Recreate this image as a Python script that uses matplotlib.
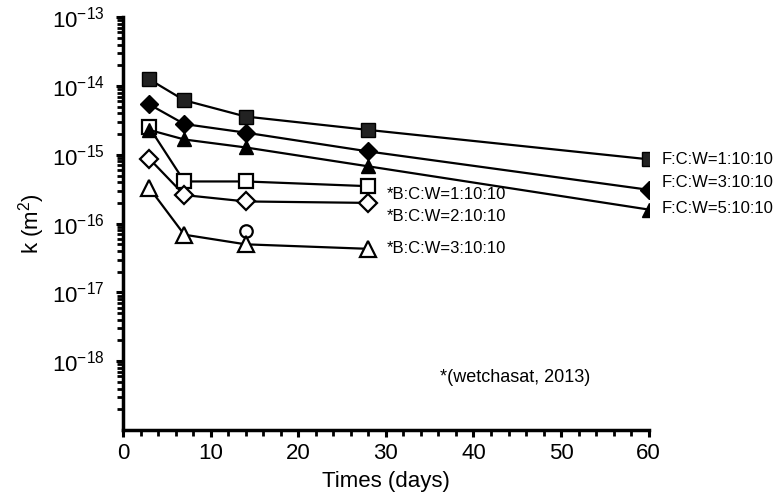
import numpy as np
import matplotlib
matplotlib.use('Agg')
import matplotlib.pyplot as plt
from matplotlib.ticker import LogLocator, MultipleLocator, NullFormatter

plt.rcParams['font.family'] = ['Liberation Sans', 'DejaVu Sans']

# Время (сутки) и значения проницаемости k, м^2
days_f = [3, 7, 14, 28, 60]
k_f1 = [1.25e-14, 6.2e-15, 3.6e-15, 2.3e-15, 8.6e-16]
k_f3 = [5.4e-15, 2.8e-15, 2.1e-15, 1.12e-15, 3.1e-16]
k_f5 = [2.3e-15, 1.67e-15, 1.28e-15, 6.8e-16, 1.6e-16]

days_b = [3, 7, 14, 28]
k_b1 = [2.5e-15, 4.1e-16, 4.1e-16, 3.5e-16]
k_b2 = [8.8e-16, 2.6e-16, 2.1e-16, 2.0e-16]
k_b3 = [3.3e-16, 6.9e-17, 5.0e-17, 4.3e-17]

circle_day = [14]
circle_k = [7.7e-17]

labels_f = ['F:C:W=1:10:10', 'F:C:W=3:10:10', 'F:C:W=5:10:10']
labels_b = ['*B:C:W=1:10:10', '*B:C:W=2:10:10', '*B:C:W=3:10:10']

fig = plt.figure(figsize=(7.76, 4.92), dpi=100)
ax = fig.add_axes([0.1585, 0.126, 0.836 - 0.1585, 0.965 - 0.126])

lw = 1.6
ax.plot(days_f, k_f1, '-s', color='black', lw=lw, ms=10, mfc='#222222', mec='black', zorder=3)
ax.plot(days_f, k_f3, '-D', color='black', lw=lw, ms=9, mfc='black', mec='black', zorder=3)
ax.plot(days_f, k_f5, '-^', color='black', lw=lw, ms=10, mfc='black', mec='black', zorder=3)
ax.plot(days_b, k_b1, '-s', color='black', lw=lw, ms=10, mfc='white', mec='black', mew=1.6, zorder=2)
ax.plot(days_b, k_b2, '-D', color='black', lw=lw, ms=9, mfc='white', mec='black', mew=1.6, zorder=2)
ax.plot(days_b, k_b3, '-^', color='black', lw=lw, ms=11, mfc='white', mec='black', mew=1.6, zorder=2)
ax.plot(circle_day, circle_k, 'o', ms=9, mfc='white', mec='black', mew=1.6, zorder=1)

ax.set_yscale('log')
ax.set_ylim(1e-19, 1e-13)
ax.set_xlim(0, 60)

ax.yaxis.set_minor_locator(LogLocator(base=10, subs=np.arange(2, 10), numticks=10))
ax.yaxis.set_minor_formatter(NullFormatter())
ax.set_yticks([1e-18, 1e-17, 1e-16, 1e-15, 1e-14, 1e-13])
ax.set_yticklabels([r'$\mathregular{10^{-18}}$', r'$\mathregular{10^{-17}}$', r'$\mathregular{10^{-16}}$',
                    r'$\mathregular{10^{-15}}$', r'$\mathregular{10^{-14}}$', r'$\mathregular{10^{-13}}$'])

ax.xaxis.set_major_locator(MultipleLocator(10))
ax.xaxis.set_minor_locator(MultipleLocator(2))

for s in ['top', 'right']:
    ax.spines[s].set_visible(False)
for s in ['left', 'bottom']:
    ax.spines[s].set_linewidth(2.5)

ax.tick_params(axis='both', which='major', direction='out', length=5, width=2.2, labelsize=16)
ax.tick_params(axis='both', which='minor', direction='out', length=4, width=2.0)
ax.tick_params(axis='y', pad=8)
ax.tick_params(axis='x', pad=4.5)

ax.set_xlabel('Times (days)', fontsize=16, labelpad=5)
ax.set_ylabel(r'k (m$\mathregular{^2}$)', fontsize=16, labelpad=4)

# Подписи серий
offsets_f = [0, 5, 1]
for lab, k, dy in zip(labels_f, [k_f1, k_f3, k_f5], offsets_f):
    ax.annotate(lab, (60, k[-1]), xytext=(9, dy), textcoords='offset points',
                fontsize=12, va='center', ha='left', annotation_clip=False)

ax.annotate(labels_b[0], (28, k_b1[-1]), xytext=(13, -6), textcoords='offset points',
            fontsize=12, va='center', ha='left')
ax.annotate(labels_b[1], (28, k_b2[-1]), xytext=(13, -10), textcoords='offset points',
            fontsize=12, va='center', ha='left')
ax.annotate(labels_b[2], (28, k_b3[-1]), xytext=(13, 0), textcoords='offset points',
            fontsize=12, va='center', ha='left')

ax.text(0.603, 0.126, '*(wetchasat, 2013)', transform=ax.transAxes, fontsize=13,
        ha='left', va='center')

fig.savefig('out.png', dpi=100)
